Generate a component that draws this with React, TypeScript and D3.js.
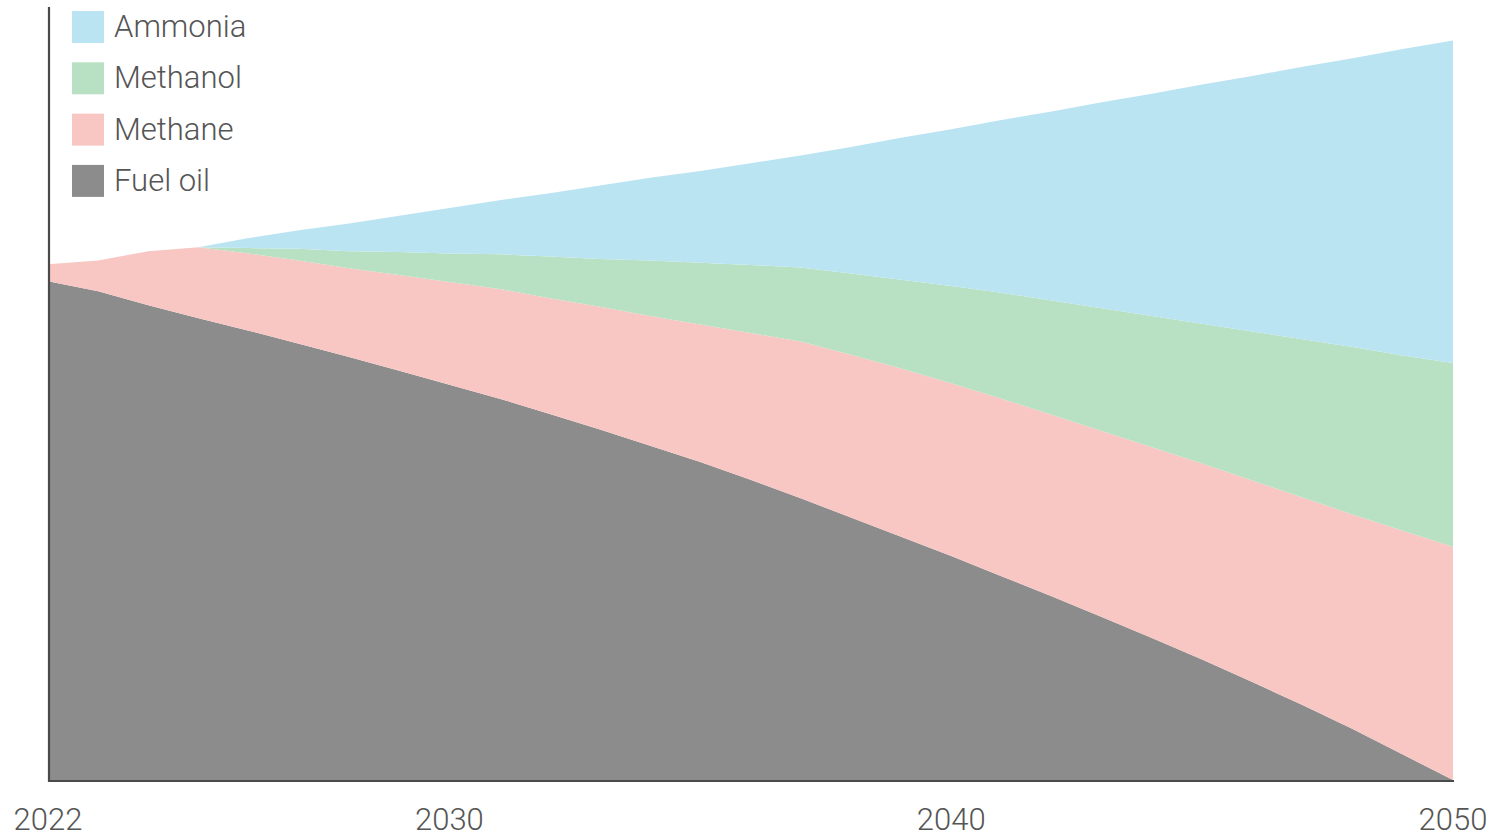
import React from "react";
import * as d3 from "d3";

// Years covered by the projection
const years: number[] = d3.range(2022, 2051);

// Fuel mix by year (share units), stacked bottom to top
const fuelOil: number[] = [
  64.6, 63.3, 61.5, 59.8, 58.2, 56.5, 54.8, 53.0, 51.2, 49.4,
  47.4, 45.4, 43.3, 41.2, 38.9, 36.5, 34.0, 31.5, 29.0, 26.4,
  23.8, 21.1, 18.4, 15.6, 12.7, 9.7, 6.6, 3.3, 0,
];
const methane: number[] = [
  2.2, 4.0, 7.0, 9.2, 10.0, 10.8, 11.5, 12.4, 13.3, 14.2,
  15.0, 15.9, 16.8, 17.8, 19.0, 20.3, 21.1, 21.8, 22.4, 23.0,
  23.5, 24.1, 24.7, 25.4, 26.1, 26.9, 27.8, 29.0, 30.2,
];
const methanol: number[] = [
  0, 0, 0, 0, 0.7, 1.5, 2.2, 3.0, 3.7, 4.5,
  5.4, 6.2, 7.2, 8.0, 8.8, 9.6, 10.5, 11.5, 12.6, 13.7,
  14.8, 15.9, 17.0, 18.1, 19.3, 20.5, 21.7, 22.7, 23.8,
];
const ammonia: number[] = [
  0, 0, 0, 0, 1.3, 2.4, 3.6, 4.7, 5.9, 7.0,
  8.2, 9.5, 10.7, 11.9, 13.2, 14.5, 16.4, 18.4, 20.3, 22.4,
  24.5, 26.7, 28.8, 31.0, 33.1, 35.3, 37.4, 39.7, 41.8,
];

const seriesKeys = ["Fuel oil", "Methane", "Methanol", "Ammonia"];
const seriesColors: Record<string, string> = {
  "Fuel oil": "#8c8c8c",
  Methane: "#f8c7c3",
  Methanol: "#b8e1c4",
  Ammonia: "#bbe4f3",
};
// Legend lists the top layer first
const legendOrder = ["Ammonia", "Methanol", "Methane", "Fuel oil"];
const tickYears: number[] = [2022, 2030, 2040, 2050];

const W = 1493;
const H = 838;
const FONT = "Roboto, Inter, sans-serif";
const TEXT = "#555555";
const AXIS = "#4a4a4a";

export default function App() {
  const rows = years.map((y, i) => ({
    year: y,
    "Fuel oil": fuelOil[i],
    Methane: methane[i],
    Methanol: methanol[i],
    Ammonia: ammonia[i],
  }));

  const x = d3.scaleLinear().domain([2022, 2050]).range([48, 1453]);
  const y = d3.scaleLinear().domain([0, 100]).range([780, 8]);

  const stacked = d3.stack<any>().keys(seriesKeys)(rows);
  const area = d3
    .area<any>()
    .x((d) => x(d.data.year))
    .y0((d) => y(d[0]))
    .y1((d) => y(d[1]))
    .curve(d3.curveLinear);

  return (
    <svg
      width={W}
      height={H}
      viewBox={`0 0 ${W} ${H}`}
      style={{ position: "absolute", left: 0, top: 0, background: "#fff" }}
    >
      <g>
        {stacked.map((s) => (
          <path key={s.key} d={area(s) || ""} fill={seriesColors[s.key]} />
        ))}
      </g>

      {/* axes */}
      <line x1={49} x2={49} y1={7} y2={782} stroke={AXIS} strokeWidth={2.2} />
      <line x1={48} x2={1454} y1={781} y2={781} stroke={AXIS} strokeWidth={2.2} />

      {tickYears.map((t) => (
        <text
          key={t}
          x={x(t)}
          y={830}
          textAnchor="middle"
          fontFamily={FONT}
          fontWeight={300}
          fontSize={31}
          fill={TEXT}
        >
          {t}
        </text>
      ))}

      {/* legend */}
      {legendOrder.map((k, i) => (
        <g key={k} transform={`translate(72, ${11 + i * 51.3})`}>
          <rect width={32} height={32} fill={seriesColors[k]} />
          <text
            x={42}
            y={26}
            fontFamily={FONT}
            fontWeight={300}
            fontSize={31}
            fill={TEXT}
          >
            {k}
          </text>
        </g>
      ))}
    </svg>
  );
}
